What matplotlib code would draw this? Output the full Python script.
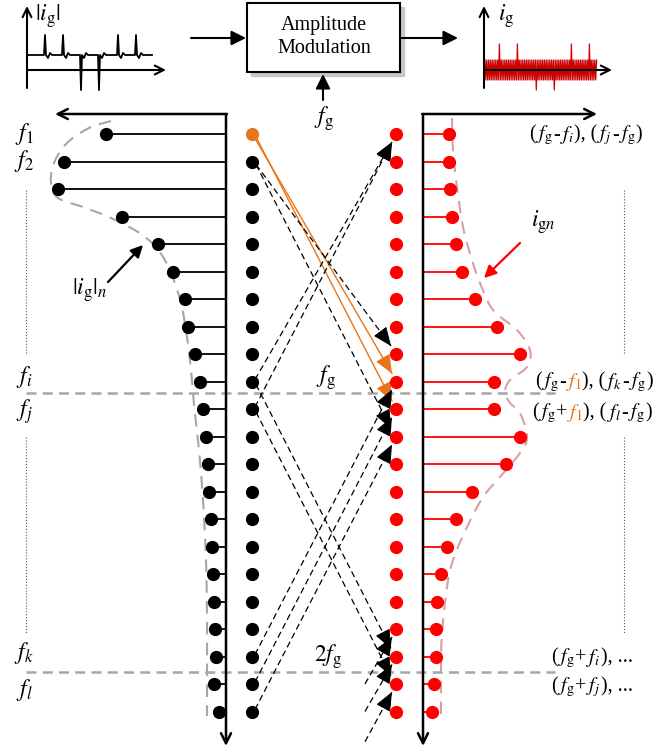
import numpy as np
import matplotlib.pyplot as plt
from matplotlib.patches import Rectangle

plt.rcParams['font.family'] = ['Liberation Serif', 'DejaVu Serif']
plt.rcParams['mathtext.fontset'] = 'stix'

# ---- data -------------------------------------------------------------
# harmonic rows of the two spectra (row 0 = f1 ... row 21 = last)
n_rows = 22
row_top, row_step = 134, 27.5

# stem lengths (px) of |ig| spectrum (left) and ig spectrum (right)
left_amp = [120, 162, 168, 104, 68, 53, 41, 38, 31, 26, 23, 20, 18, 17, 15,
            14, 13, 12, 11, 10, 12, 7]
right_amp = [26, 26, 27, 29, 33, 39, 52, 74, 97, 71, 71, 97, 83, 49, 33, 24,
             18, 14, 13, 13, 11, 9]

# hand-drawn envelopes (amplitude, y)
left_env_amp = [115, 137, 159, 172, 175, 168, 143, 115, 85, 67, 55, 45, 39,
                35, 32, 27, 23, 20, 19, 19, 19]
left_env_y = [121, 128, 143, 163, 183, 198, 207, 218, 234, 251, 273, 303,
              337, 370, 405, 450, 500, 560, 620, 680, 716]
right_env_amp = [29, 30, 34, 40, 49, 57, 70, 94, 107, 104, 87, 82, 87, 97,
                 104, 97, 77, 60, 44, 30, 24, 19, 18, 18]
right_env_y = [118, 150, 187, 227, 260, 283, 310, 330, 350, 367, 380, 392,
               403, 413, 437, 453, 477, 497, 527, 560, 587, 633, 667, 718]

# modulation links between harmonic rows (from black row -> to red row)
orange_links = [(0, 9), (0, 10)]
down_links = [(1, 8), (1, 11), (9, 19), (10, 20)]
up_links = [(9, 0), (10, 0), (19, 9), (20, 10), (21, 11)]
outer_links = [(20, 18), (21, 19), (22.1, 20)]   # coming from beyond the chart

# time-domain sketches
ecg_spikes = [(45, 35), (63, 35), (81, 90), (99, 90), (118, 35), (136, 35)]
ecg_base = 55
mod_spikes_up = [500, 518, 572, 590]
mod_spikes_down = [535, 553]
mod_band = (60, 80)

row_labels = ['$f_1$', '$f_2$', '$f_i$', '$f_j$', '$f_k$', '$f_l$']
row_label_y = [134, 161, 377, 412, 653, 690]

# ---- helpers ----------------------------------------------------------
def row_y(r):
    return row_top + r * row_step


def smooth(px, py, n=14):
    pts = np.column_stack([px, py]).astype(float)
    pts = np.vstack([pts[0], pts, pts[-1]])
    out = []
    t = np.linspace(0, 1, n, endpoint=False)[:, None]
    for i in range(1, len(pts) - 2):
        p0, p1, p2, p3 = pts[i - 1:i + 3]
        out.append(0.5 * (2 * p1 + (-p0 + p2) * t
                          + (2 * p0 - 5 * p1 + 4 * p2 - p3) * t ** 2
                          + (-p0 + 3 * p1 - 3 * p2 + p3) * t ** 3))
    out.append(pts[-2][None])
    s = np.vstack(out)
    return s[:, 0], s[:, 1]


def head(ax, x0, y0, x1, y1, color='k', ms=13):
    v = np.array([x1 - x0, y1 - y0], float)
    v /= np.hypot(*v)
    ax.annotate('', xy=(x1, y1), xytext=(x1 - 8 * v[0], y1 - 8 * v[1]),
                arrowprops=dict(arrowstyle='-|>,head_length=0.9,head_width=0.38',
                                color=color, lw=0.8, shrinkA=0, shrinkB=0,
                                mutation_scale=ms), zorder=6)


def arrow(ax, x0, y0, x1, y1, style='-|>', lw=1.5, color='k', ms=18):
    ax.annotate('', xy=(x1, y1), xytext=(x0, y0),
                arrowprops=dict(arrowstyle=style, color=color, lw=lw,
                                shrinkA=0, shrinkB=0, mutation_scale=ms), zorder=5)


def pieces(ax, x, y, parts, fs):
    r = ax.figure.canvas.get_renderer()
    inv = ax.transData.inverted()
    for s, c in parts:
        t = ax.text(x, y, s, color=c, fontsize=fs, va='center', ha='left')
        bb = t.get_window_extent(renderer=r)
        x = inv.transform((bb.x1, bb.y0))[0]


# ---- figure -----------------------------------------------------------
fig = plt.figure(figsize=(6.7, 7.53), dpi=100)
ax = fig.add_axes([0, 0, 1, 1])
ax.set_xlim(0, 670)
ax.set_ylim(753, 0)
ax.axis('off')

RED = '#ff0000'
ORANGE = '#e8751a'
GRAY = '#a6a6a6'
lx, rx = 226, 423          # spectrum axes
bx, redx = 252, 396        # dot columns
ys = np.array([row_y(r) for r in range(n_rows)])

# spectrum axes
arrow(ax, lx, 114, lx, 746, style='->', lw=1.8)
arrow(ax, lx + 0.9, 114, 55, 114, style='->', lw=1.8)
arrow(ax, rx, 114, rx, 746, style='->', lw=1.8)
arrow(ax, rx - 0.9, 114, 597, 114, style='->', lw=1.8)

# stems
for y, a in zip(ys, left_amp):
    ax.plot([lx, lx - a], [y, y], color='k', lw=1.3, zorder=3)
    ax.plot(lx - a, y, 'o', color='k', ms=8.5, zorder=4)
for y, a in zip(ys, right_amp):
    ax.plot([rx, rx + a], [y, y], color=RED, lw=1.3, zorder=3)
    ax.plot(rx + a, y, 'o', color=RED, ms=8.5, zorder=4)

# envelopes
ex, ey = smooth(lx - np.array(left_env_amp), left_env_y)
ax.plot(ex, ey, color=GRAY, lw=1.5, dashes=(6, 4), zorder=2)
ex, ey = smooth(rx + np.array(right_env_amp), right_env_y)
ax.plot(ex, ey, color='#d9a0a0', lw=1.5, dashes=(6, 4), zorder=2)

# dot columns
ax.plot(np.full(n_rows - 1, bx), ys[1:], 'o', color='k', ms=8.5, zorder=7)
ax.plot(bx, ys[0], 'o', color=ORANGE, ms=8.5, zorder=7)
ax.plot(np.full(n_rows, redx), ys, 'o', color=RED, ms=8.5, zorder=7)

# links
for k, (a, b) in enumerate(orange_links):
    x0, y0, x1, y1 = bx + 1 + 2 * k, ys[a] + 1, redx - 4, ys[b] - 8
    ax.plot([x0, x1], [y0, y1], color=ORANGE, lw=1.0, zorder=5)
    head(ax, x0, y0, x1, y1, color=ORANGE)
for k, (a, b) in enumerate(down_links):
    x0, y0, x1, y1 = bx + 4, ys[a] + 3, redx - 5, ys[b] - 8
    ax.plot([x0, x1], [y0, y1], color='k', lw=0.9, dashes=(5, 3), zorder=5)
    head(ax, x0, y0, x1, y1)
for a, b in up_links:
    x0, y0, x1, y1 = bx + 3, ys[a] - 2, redx - 4, ys[b] + 8
    ax.plot([x0, x1], [y0, y1], color='k', lw=0.9, dashes=(5, 3), zorder=5)
    head(ax, x0, y0, x1, y1)
for a, b in outer_links:
    x0, y0, x1, y1 = 365, row_y(a), redx - 4, ys[b] + 8
    ax.plot([x0, x1], [y0, y1], color='k', lw=0.9, dashes=(5, 3), zorder=5)
    head(ax, x0, y0, x1, y1)

# separation lines
for y in (393, 672):
    ax.plot([26, 555], [y, y], color=GRAY, lw=1.8, dashes=(4, 2.5), zorder=1)

# dotted continuation marks
for x in (26, 624):
    ax.plot([x, x], [190, 355], color='#555555', lw=0.8, ls=':', zorder=1)
    ax.plot([x, x], [437, 633], color='#555555', lw=0.8, ls=':', zorder=1)

# row labels
for s, y in zip(row_labels, row_label_y):
    ax.text(24, y, s, fontsize=17, ha='center', va='center')

fs = 14.5
pieces(ax, 529, 135, [('(', 'k'), (r'$f_\mathrm{g}$', 'k'), ('-', 'k'),
                      (r'$f_i$', 'k'), ('), (', 'k'), (r'$f_j$', 'k'),
                      ('-', 'k'), (r'$f_\mathrm{g}$', 'k'), (')', 'k')], fs)
pieces(ax, 535, 382, [('(', 'k'), (r'$f_\mathrm{g}$', 'k'), ('-', 'k'),
                      (r'$f_1$', ORANGE), ('), (', 'k'), (r'$f_k$', 'k'),
                      ('-', 'k'), (r'$f_\mathrm{g}$', 'k'), (')', 'k')], fs)
pieces(ax, 532, 413, [('(', 'k'), (r'$f_\mathrm{g}$', 'k'), ('+', 'k'),
                      (r'$f_1$', ORANGE), ('), (', 'k'), (r'$f_l$', 'k'),
                      ('-', 'k'), (r'$f_\mathrm{g}$', 'k'), (')', 'k')], fs)
pieces(ax, 551, 658, [('(', 'k'), (r'$f_\mathrm{g}$', 'k'), ('+', 'k'),
                      (r'$f_i$', 'k'), ('), ...', 'k')], fs)
pieces(ax, 551, 687, [('(', 'k'), (r'$f_\mathrm{g}$', 'k'), ('+', 'k'),
                      (r'$f_j$', 'k'), ('), ...', 'k')], fs)

ax.text(326, 378, r'$f_\mathrm{g}$', fontsize=17, ha='center', va='center')
ax.text(328, 657, r'$2f_\mathrm{g}$', fontsize=17, ha='center', va='center')
ax.text(324, 119, r'$f_\mathrm{g}$', fontsize=17, ha='center', va='center')

ax.text(90, 290, r'$|i_\mathrm{g}|_n$', fontsize=17, ha='center', va='center')
arrow(ax, 108, 282, 143, 245, lw=1.6, ms=18)
ax.text(543, 222, r'$i_{\mathrm{g}n}$', fontsize=17, ha='center', va='center')
arrow(ax, 520, 243, 484, 278, lw=1.6, color=RED, ms=18)

# ---- top block diagram ------------------------------------------------
ax.add_patch(Rectangle((251, 7), 153, 69, color='#c8c8c8', zorder=1))
ax.add_patch(Rectangle((247, 3), 153, 69, facecolor='white', edgecolor='k',
                       lw=1.5, zorder=2))
ax.text(324, 25, 'Amplitude', fontsize=14.5, ha='center', va='center', zorder=3)
ax.text(324, 48, 'Modulation', fontsize=14.5, ha='center', va='center', zorder=3)
arrow(ax, 191, 38, 246, 38, lw=1.5, ms=22)
arrow(ax, 400, 38, 458, 38, lw=1.5, ms=22)
arrow(ax, 323, 100, 323, 74, lw=1.5, ms=22)

# |ig| sketch
arrow(ax, 27, 88, 27, 6, style='->', lw=1.5, ms=16)
arrow(ax, 27, 70, 166, 70, style='->', lw=1.5, ms=16)
px, py = [28], [ecg_base]
for x, peak in ecg_spikes:
    px += [x - 1, x, x + 1, x + 3, x + 5, x + 7]
    py += [ecg_base, peak, ecg_base, ecg_base + 3, ecg_base - 2, ecg_base]
px.append(152)
py.append(ecg_base)
ax.plot(px, py, color='k', lw=1.3, zorder=3)
ax.text(48, 16, r'$|i_\mathrm{g}|$', fontsize=17, ha='center', va='center')

# ig sketch
arrow(ax, 484, 88, 484, 6, style='->', lw=1.5, ms=16)
arrow(ax, 484, 70, 612, 70, style='->', lw=1.5, ms=16)
mx = np.arange(485, 597, 0.9)
my = np.where(np.arange(len(mx)) % 2 == 0, mod_band[0], mod_band[1]).astype(float)
for s in mod_spikes_up:
    i = np.argmin(abs(mx - s))
    my[i - i % 2] = 44
for s in mod_spikes_down:
    i = np.argmin(abs(mx - s))
    my[i | 1] = 90
ax.plot(mx, my, color='#cc0000', lw=0.9, zorder=3)
ax.text(506, 16, r'$i_\mathrm{g}$', fontsize=17, ha='center', va='center')

fig.savefig('out.png', dpi=100)
